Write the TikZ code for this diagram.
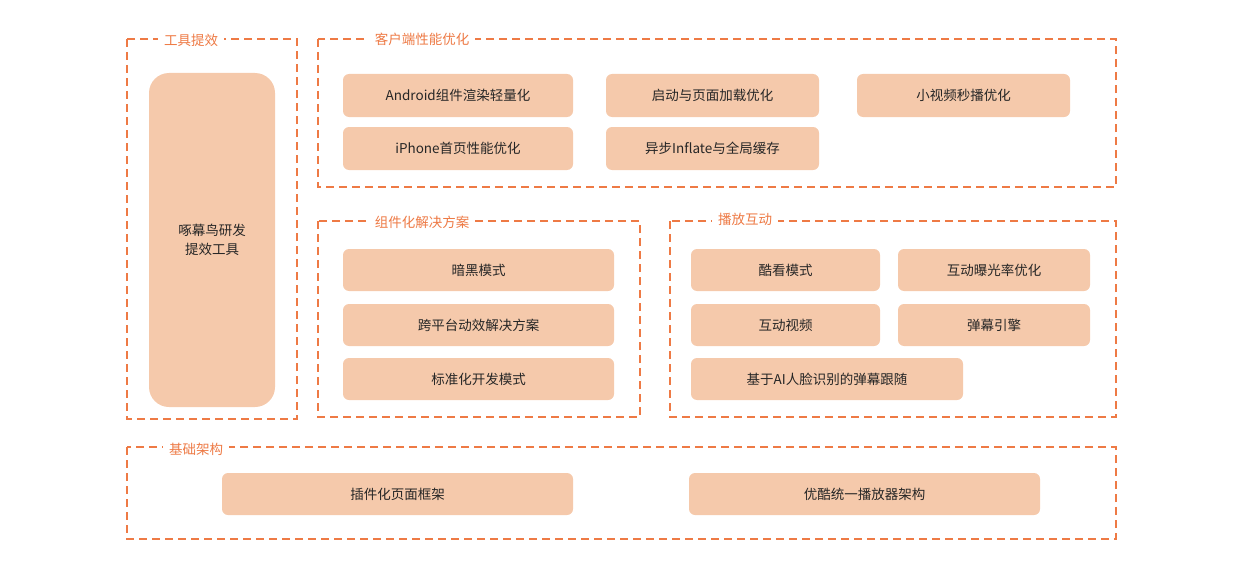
\documentclass[tikz,border=0pt]{standalone}
\usepackage{fontspec}
\setmainfont{Noto Sans CJK SC}
\definecolor{org}{HTML}{EE7A45}
\definecolor{boxc}{HTML}{F5C9AB}
\begin{document}
\begin{tikzpicture}[x=1pt,y=-1pt,
 frame/.style={draw=org,line width=1.3pt,dash pattern=on 8pt off 5pt},
 ttl/.style={fill=white,text=org,font=\fontsize{13.5}{15}\selectfont,inner xsep=6pt,inner ysep=1pt},
 bx/.style={fill=boxc,rounded corners=6pt,font=\fontsize{13.5}{15}\selectfont,text=black!85}]
\useasboundingbox (0,0) rectangle (1256,578);
\newcommand{\bb}[6]{\fill[bx] (#2,#3) rectangle (#4,#5); \node[font=\fontsize{13.5}{15}\selectfont,text=black!85] (#1) at ({(#2+#4)/2},{(#3+#5)/2}) {#6};}
% frames
\draw[frame] (127,39) rectangle (297,419);
\node[ttl] (t1) at (191,40) {工具提效};
\draw[frame] (318,39) rectangle (1116,187);
\node[ttl] (t2) at (422,39) {客户端性能优化};
\draw[frame] (318,221) rectangle (640,417);
\node[ttl] (t3) at (422,222) {组件化解决方案};
\draw[frame] (670,221) rectangle (1116,417);
\node[ttl] (t4) at (745,219) {播放互动};
\draw[frame] (127,447) rectangle (1116,539);
\node[ttl] (t5) at (196,449) {基础架构};
% boxes
\fill[boxc,rounded corners=20pt] (149,73) rectangle (275,407);
\node[align=center,font=\fontsize{13.5}{19}\selectfont,text=black!85] (big) at (212,240) {啄幕鸟研发\\提效工具};
\bb{a1}{343}{74}{573}{117}{Android组件渲染轻量化}
\bb{a2}{606}{74}{819}{117}{启动与页面加载优化}
\bb{a3}{857}{74}{1070}{117}{小视频秒播优化}
\bb{a4}{343}{127}{573}{170}{iPhone首页性能优化}
\bb{a5}{606}{127}{819}{170}{异步Inflate与全局缓存}
\bb{b1}{343}{249}{614}{291}{暗黑模式}
\bb{b2}{343}{304}{614}{346}{跨平台动效解决方案}
\bb{b3}{343}{358}{614}{400}{标准化开发模式}
\bb{c1}{691}{249}{880}{291}{酷看模式}
\bb{c2}{898}{249}{1090}{291}{互动曝光率优化}
\bb{c3}{691}{304}{880}{346}{互动视频}
\bb{c4}{898}{304}{1090}{346}{弹幕引擎}
\bb{c5}{691}{358}{963}{400}{基于AI人脸识别的弹幕跟随}
\bb{d1}{222}{473}{573}{515}{插件化页面框架}
\bb{d2}{689}{473}{1040}{515}{优酷统一播放器架构}
\end{tikzpicture}
\end{document}
